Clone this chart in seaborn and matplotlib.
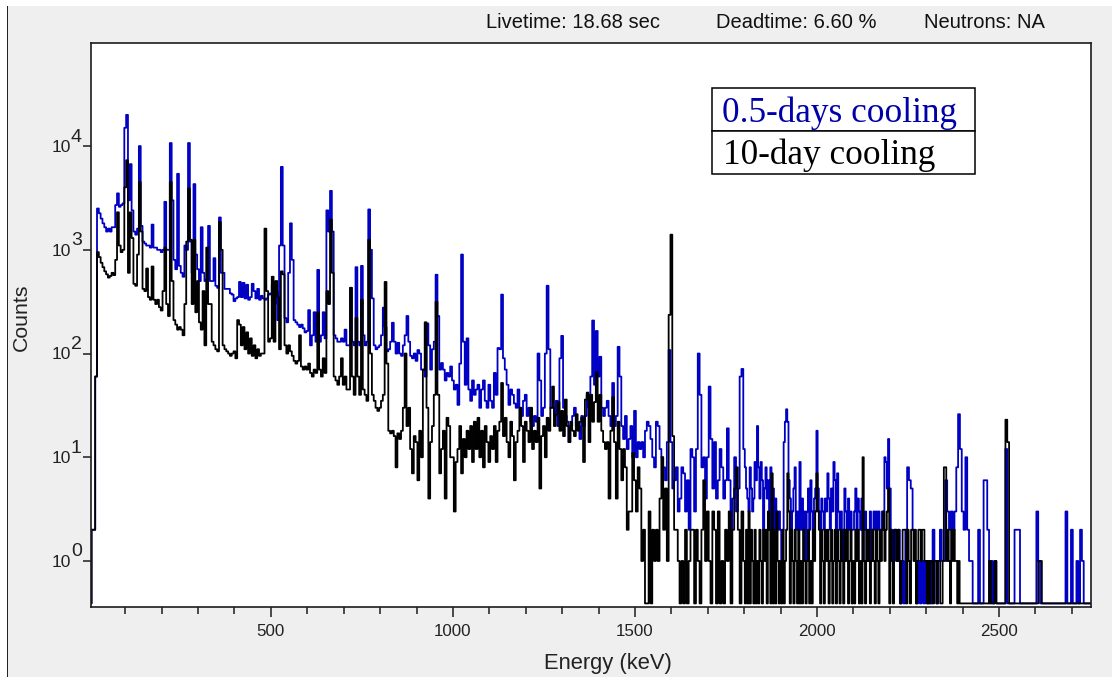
"""Gamma spectrum comparison, two cooling times, log counts vs energy."""
import numpy as np
import pandas as pd
import matplotlib
matplotlib.use("Agg")
import matplotlib.pyplot as plt
from matplotlib.patches import Rectangle
from matplotlib.ticker import MultipleLocator, NullLocator, NullFormatter, FixedLocator
import seaborn as sns

# Counts. Each row is one 100 keV block (0-100, 100-200, ...),
# split evenly in channels (20 or 30 per row). A zero is an empty channel.
blue_rows = [
    [0, 0, 2, 2, 60, 2500, 2250, 2000, 1800, 1650, 1500, 1600, 1500, 1650, 1650, 2700, 3500, 2600, 2700, 2800],
    [15000, 20000, 3000, 6700, 2400, 1500, 1400, 1600, 10000, 1700, 1200, 1150, 1100, 1100, 1050, 1750, 1050, 1050, 1000, 1000],
    [950, 1000, 2900, 1000, 1000, 10700, 3000, 800, 650, 5400, 700, 600, 550, 1100, 1000, 10700, 1200, 600, 4300, 900],
    [650, 500, 1650, 600, 500, 520, 1700, 500, 500, 830, 450, 430, 2050, 600, 600, 420, 420, 420, 380, 370],
    [320, 340, 350, 490, 350, 480, 340, 460, 330, 350, 470, 400, 340, 420, 330, 360, 340, 330, 340, 370],
    [380, 460, 300, 400, 210, 1100, 6300, 1100, 220, 200, 600, 1800, 800, 210, 200, 190, 180, 190, 175, 160],
    [165, 262, 120, 150, 250, 130, 640, 130, 150, 250, 140, 2400, 1500, 3700, 1500, 150, 140, 130, 130, 140],
    [130, 170, 120, 120, 430, 130, 120, 680, 130, 120, 700, 150, 120, 130, 2450, 1000, 340, 120, 110, 115],
    [120, 150, 277, 180, 105, 110, 130, 198, 130, 100, 127, 100, 95, 120, 150, 230, 130, 95, 90, 100],
    [85, 108, 100, 70, 70, 60, 195, 120, 70, 110, 130, 575, 230, 70, 81, 70, 55, 65, 60, 75],
    [55, 45, 50, 32, 80, 900, 130, 50, 140, 45, 35, 55, 40, 45, 50, 30, 45, 55, 35, 30],
    [50, 35, 30, 65, 40, 113, 110, 370, 90, 70, 50, 32, 45, 40, 33, 30, 45, 30, 25, 35],
    [40, 25, 30, 22, 20, 25, 22, 100, 55, 25, 30, 100, 450, 110, 30, 30, 25, 35, 20, 90],
    [148, 30, 25, 22, 14, 20, 25, 30, 20, 20, 15, 25, 20, 25, 40, 30, 60, 208, 50, 165],
    [60, 93, 30, 25, 30, 35, 25, 20, 52, 20, 25, 116, 60, 20, 15, 25, 12, 15, 20, 10],
    [28, 10, 14, 12, 14, 10, 18, 22, 20, 15, 10, 8, 22, 20, 12, 10, 8, 6, 14, 108],
    [14, 5, 6, 8, 3, 4, 8, 7, 3, 6, 2, 12, 10, 3, 12, 100, 40, 8, 10, 4],
    [10, 48, 15, 5, 14, 4, 6, 12, 8, 4, 6, 19, 6, 2, 4, 10, 3, 5, 60, 71],
    [12, 8, 5, 4, 3, 8, 5, 3, 4, 9, 6, 20, 8, 4, 9, 6, 2, 5, 8, 4, 6, 2, 8, 3, 5, 2, 4, 3, 2, 3],
    [2, 1, 2, 14, 22, 29, 22, 6, 4, 2, 3, 5, 8, 2, 3, 2, 9, 2, 4, 2, 3, 1, 3, 5, 2, 6, 3, 2, 4, 5],
    [18, 5, 3, 2, 4, 3, 2, 4, 3, 7, 4, 2, 5, 3, 9, 6, 2, 7, 3, 2, 3, 1, 2, 5, 3, 2, 4, 2, 3, 2],
    [2, 3, 5, 2, 4, 3, 2, 4, 1, 2, 3, 2, 1, 2, 3, 1, 2, 3, 2, 3, 2, 3, 2, 2, 3, 2, 10, 9, 5, 15],
    [5, 2, 1, 2, 1, 2, 0, 1, 0, 2, 8, 6, 5, 2, 1, 0, 1, 0, 1, 0],
    [1, 0, 1, 0, 2, 1, 0, 1, 2, 1, 1, 6, 3, 2, 3, 2, 3, 8, 26, 12],
    [3, 2, 10, 2, 1, 1, 0, 0, 0, 2, 0, 0, 6, 6, 2, 0, 1, 0, 1, 0],
    [0, 0, 0, 0, 12, 0, 0, 0, 0, 2, 2, 2, 0, 0, 0, 0, 0, 0, 0, 0],
    [0, 3, 1, 0, 0, 0, 0, 0, 0, 0, 0, 0, 0, 0, 0, 0, 0, 3, 0, 0],
    [2, 0, 0, 1, 0, 2, 1, 0, 0, 0, 0, 0, 0, 0, 0, 0, 0, 0, 0, 0],
]

black_rows = [
    [0, 0, 2, 2, 60, 950, 850, 750, 680, 620, 580, 540, 560, 600, 570, 800, 2300, 1100, 950, 1000],
    [4000, 7300, 600, 2300, 1300, 470, 450, 900, 4500, 1500, 420, 400, 660, 350, 330, 690, 330, 300, 330, 280],
    [260, 400, 1050, 300, 230, 4500, 500, 210, 190, 170, 180, 170, 150, 300, 1200, 3900, 1250, 300, 1250, 250],
    [500, 200, 170, 400, 120, 1050, 300, 300, 130, 120, 110, 105, 1850, 1000, 120, 110, 105, 100, 95, 100],
    [105, 90, 210, 190, 120, 180, 110, 160, 100, 140, 95, 120, 90, 110, 95, 100, 100, 1600, 400, 130],
    [140, 550, 130, 500, 350, 110, 620, 580, 120, 100, 120, 105, 95, 85, 80, 85, 150, 75, 70, 75],
    [70, 80, 65, 60, 70, 65, 250, 70, 60, 90, 65, 400, 300, 1950, 600, 60, 55, 50, 60, 90],
    [50, 60, 45, 45, 430, 60, 40, 220, 60, 40, 330, 45, 40, 35, 1250, 100, 40, 35, 30, 28],
    [30, 35, 40, 490, 80, 18, 17, 18, 16, 8, 17, 15, 18, 30, 100, 20, 30, 12, 7, 16],
    [14, 6, 18, 10, 70, 200, 30, 4, 14, 20, 40, 315, 40, 7, 12, 18, 4, 24, 20, 10],
    [10, 3, 9, 12, 20, 7, 15, 10, 18, 12, 20, 9, 22, 12, 24, 10, 18, 8, 20, 14],
    [9, 16, 12, 20, 9, 18, 22, 52, 16, 24, 14, 10, 22, 16, 6, 14, 18, 30, 20, 9],
    [22, 18, 14, 30, 12, 18, 14, 24, 5, 16, 20, 10, 24, 18, 30, 48, 20, 26, 34, 18],
    [28, 16, 36, 20, 14, 22, 18, 16, 26, 18, 22, 24, 9, 36, 42, 14, 40, 22, 34, 66],
    [22, 40, 18, 14, 12, 14, 4, 18, 38, 14, 4, 22, 12, 6, 12, 8, 2, 3, 3, 11],
    [6, 3, 8, 5, 1, 2, 0, 0, 3, 0, 2, 1, 2, 1, 4, 10, 2, 5, 1, 236],
    [1400, 16, 2, 2, 1, 0, 1, 0, 2, 0, 1, 2, 2, 0, 2, 1, 0, 2, 6, 1],
    [3, 1, 0, 3, 2, 0, 3, 0, 1, 0, 2, 1, 3, 0, 2, 5, 8, 2, 0, 3],
    [1, 0, 2, 0, 3, 0, 2, 1, 0, 2, 0, 1, 0, 2, 1, 0, 2, 1, 2, 0, 3, 2, 0, 7, 0, 2, 0, 3, 1, 0],
    [1, 0, 2, 0, 1, 2, 7, 3, 0, 2, 1, 0, 2, 1, 0, 2, 0, 1, 0, 2, 1, 0, 1, 2, 0, 1, 0, 2, 1, 3],
    [7, 3, 2, 0, 2, 1, 0, 2, 1, 2, 0, 1, 2, 0, 1, 2, 0, 2, 1, 0, 2, 1, 0, 2, 1, 2, 0, 1, 2, 0],
    [1, 0, 2, 1, 2, 0, 1, 0, 10, 1, 0, 2, 1, 2, 0, 1, 2, 1, 0, 2, 1, 0, 2, 1, 2, 3, 1, 2, 3, 5],
    [0, 2, 1, 0, 2, 2, 1, 2, 1, 0, 1, 2, 2, 2, 0, 2, 1, 0, 2, 2, 1, 2, 0, 1, 2, 2, 1, 2, 2, 1],
    [1, 0, 1, 0, 1, 1, 0, 1, 1, 0, 1, 1, 0, 0, 1, 8, 8, 1, 2, 1, 0, 2, 1, 2, 1, 1, 0, 1, 0, 0],
    [0, 0, 0, 0, 0, 0, 0, 0, 0, 0, 0, 0, 0, 0, 0, 1, 0, 0, 1, 0],
    [0, 0, 0, 0, 23, 14, 0, 0, 0, 0, 0, 0, 0, 0, 0, 0, 0, 0, 0, 0],
    [0, 0, 1, 1, 0, 0, 0, 0, 0, 0, 0, 0, 0, 0, 0, 0, 0, 0, 0, 0],
    [0, 0, 0, 0, 0, 0, 0, 0, 0, 0, 0, 0, 0, 0, 0, 0, 0, 0, 0, 0],
]

series_names = ["0.5-days cooling", "10-day cooling"]
header_labels = ["Livetime: 18.68 sec", "Deadtime: 6.60 %", "Neutrons: NA"]
y_decades = [0, 1, 2, 3, 4]

BLOCK_KEV = 100
FLOOR = 0.39  # empty channels sit here on the log axis

W, H = 1112, 678
GREY = "#efefef"
BLUE = "#0000c4"
DARK = "#1c1c1c"


def rows_to_frame(rows, name):
    energy, counts = [], []
    for i, row in enumerate(rows):
        energy.extend(np.linspace(i * BLOCK_KEV, (i + 1) * BLOCK_KEV, len(row), endpoint=False))
        counts.extend(row)
    return pd.DataFrame({"energy": energy, "counts": np.clip(counts, FLOOR, None), "series": name})


def px_rect(fig, x0, y0, x1, y1, **kw):
    """Rectangle given in image pixels, y counted from the top."""
    fig.add_artist(Rectangle((x0 / W, 1 - y1 / H), (x1 - x0) / W, (y1 - y0) / H,
                             transform=fig.transFigure, **kw))


def main():
    sns.set_style("ticks")
    plt.rcParams["font.family"] = ["Liberation Sans", "DejaVu Sans"]

    fig = plt.figure(figsize=(W / 100, H / 100), dpi=100, facecolor=GREY)
    ax = fig.add_axes([91 / W, 1 - 607 / H, 1000 / W, 564 / H], facecolor="white")

    df = pd.concat([rows_to_frame(blue_rows, series_names[0]),
                    rows_to_frame(black_rows, series_names[1])], ignore_index=True)
    sns.lineplot(data=df, x="energy", y="counts", hue="series", hue_order=series_names,
                 palette=[BLUE, "black"], estimator=None, sort=False, drawstyle="steps-mid",
                 linewidth=1.3, legend=False, ax=ax)

    ax.set_yscale("log")
    ax.set_xlim(6, 2752.5)
    ax.set_ylim(0.36, 98600)

    ax.xaxis.set_major_locator(MultipleLocator(500))
    ax.xaxis.set_minor_locator(MultipleLocator(100))
    ax.yaxis.set_major_locator(FixedLocator([10.0 ** d for d in y_decades]))
    ax.yaxis.set_minor_locator(NullLocator())
    ax.yaxis.set_major_formatter(NullFormatter())
    ax.tick_params(axis="x", which="major", length=7.5, width=1.1, color=DARK,
                   labelsize=12.2, labelcolor="#222222", pad=5)
    ax.tick_params(axis="x", which="minor", length=5, width=1.1, color=DARK)
    ax.tick_params(axis="y", which="major", length=5.5, width=1.1, color=DARK)
    for spine in ax.spines.values():
        spine.set_color(DARK)
        spine.set_linewidth(1.2)

    ax.set_xlabel("")
    ax.set_ylabel("")
    fig.text(608 / W, 1 - 664 / H, "Energy (keV)", ha="center", va="center", fontsize=15.8, color="#222222")
    fig.text(21 / W, 1 - 317 / H, "Counts", ha="center", va="center", rotation=90, fontsize=15.3, color="#222222")

    # y tick labels: the exponent is nearly as big as the base in the original
    trans = ax.get_yaxis_transform()
    for d in y_decades:
        ax.annotate("10", (0, 10.0 ** d), xycoords=trans, xytext=(-14.5, -1), textcoords="offset points",
                    ha="right", va="center", fontsize=12.5, color="#222222")
        ax.annotate(str(d), (0, 10.0 ** d), xycoords=trans, xytext=(-14.5, 6.5), textcoords="offset points",
                    ha="left", va="center", fontsize=14, color="#222222", annotation_clip=False)

    # header line
    for label, x in zip(header_labels, [486, 716, 924]):
        fig.text(x / W, 1 - 23 / H, label, ha="left", va="center", fontsize=14.5, color="#111111")

    # window edges from the screenshot
    px_rect(fig, 0, 0, 7, H, facecolor="white", edgecolor="none")
    px_rect(fig, 0, 0, W, 6, facecolor="white", edgecolor="none")
    px_rect(fig, 0, 677, W, H, facecolor="white", edgecolor="none")
    px_rect(fig, 7, 6, 8, 677, facecolor="#222222", edgecolor="none")

    # boxed labels
    px_rect(fig, 712, 88, 975, 131, facecolor="white", edgecolor="black", linewidth=1.1, zorder=5)
    px_rect(fig, 712, 131, 975, 174, facecolor="white", edgecolor="black", linewidth=1.1, zorder=5)
    fig.text(722 / W, 1 - 113 / H, series_names[0], ha="left", va="center", fontsize=25.4,
             family="Liberation Serif", color="#0000a8", zorder=6)
    fig.text(723 / W, 1 - 155 / H, series_names[1], ha="left", va="center", fontsize=25.4,
             family="Liberation Serif", color="black", zorder=6)

    fig.savefig("out.png", dpi=100, facecolor=GREY)


if __name__ == "__main__":
    main()
